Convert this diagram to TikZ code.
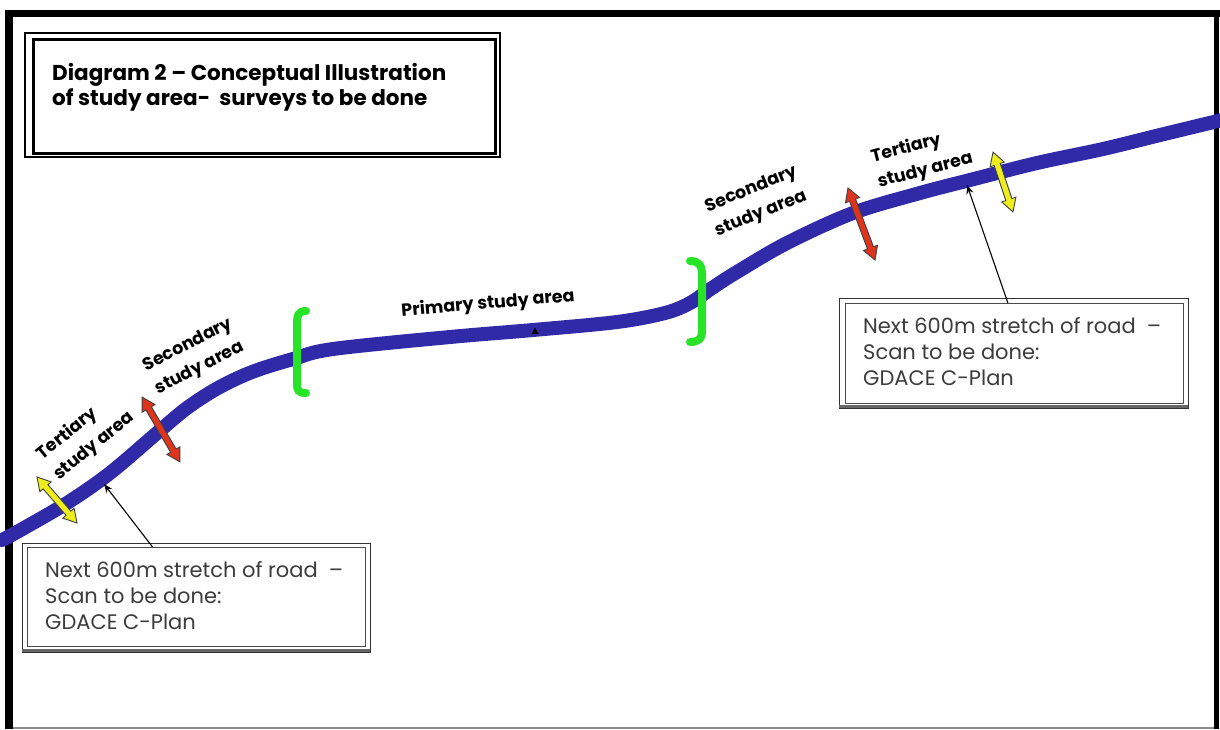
\documentclass[tikz,border=0pt]{standalone}
\usepackage{fontspec}
\setmainfont{Poppins}
\usetikzlibrary{calc,arrows.meta}
\definecolor{roadblue}{RGB}{48,42,168}
\definecolor{brgreen}{RGB}{40,228,40}
\definecolor{arrred}{RGB}{222,52,30}
\definecolor{arryellow}{RGB}{238,238,30}
\definecolor{txtgray}{RGB}{60,60,60}
\newcommand{\dblarr}[5]{%
  \begin{scope}[shift={(#1,#2)}, rotate=#3]
    \pgfmathsetmacro\hl{#4/2}
    \filldraw[draw=black!75, fill=#5, line width=0.9pt, line join=miter]
      (-\hl,0) -- (-\hl+13,7.5) -- (-\hl+13,3.2) -- (\hl-13,3.2) -- (\hl-13,7.5) -- (\hl,0)
      -- (\hl-13,-7.5) -- (\hl-13,-3.2) -- (-\hl+13,-3.2) -- (-\hl+13,-7.5) -- cycle;
  \end{scope}}
\begin{document}
\begin{tikzpicture}[x=1pt,y=-1pt,
  frame/.style={line width=#1, black},
  roadline/.style={line width=14pt, roadblue, line cap=round, line join=round},
  bracket/.style={line width=8pt, brgreen, line cap=round},
  callbox/.style={draw=black!70, line width=1.4pt, fill=white, inner sep=0pt},
  calltext/.style={font=\fontsize{21}{26}\selectfont, text=txtgray, align=left, inner sep=0pt},
  titletext/.style={font=\fontsize{21.5}{25.5}\selectfont\bfseries, align=left, inner sep=0pt},
  lbl/.style={font=\fontsize{17.5}{26}\selectfont\bfseries, align=left, inner sep=0pt},
  callarrow/.style={-{Stealth[length=9pt,width=7pt]}, line width=1.1pt, black},
]
\useasboundingbox (0,0) rectangle (1220,729);
\fill[white] (0,0) rectangle (1220,729);

% outer frame
\draw[black!45, line width=1.5pt] (8,728) -- (1216,728);
\draw[frame=5pt] (1216,11) -- (1216,729);
\draw[frame=8pt] (8.5,9.5) -- (8.5,729);
\draw[frame=7.5pt] (4.5,13.5) -- (1220,13.5);

% title box
\draw[line width=1.2pt] (25,33) rectangle (500,157);
\node[draw, line width=2.6pt, minimum width=462pt, minimum height=114pt, anchor=north west, inner sep=0pt] (titlebox) at (32,38) {};
\node[titletext, anchor=north west] (title) at (52,63) {Diagram 2 – Conceptual Illustration\\of study area-\ \ surveys to be done};

% road
\draw[roadline] plot[smooth, tension=0.55] coordinates {
  (2,540) (17,532) (67,503) (110,473) (157,433) (187,408) (218,388) (252,372) (293,359)
  (333,349) (450,337) (533,330) (617,322) (665,313) (690,303) (712,288) (737,272) (787,243)
  (853,213) (920,193) (970,180) (1037,163) (1103,149) (1160,135) (1222,120)};
\coordinate (roadL) at (104,484);
\coordinate (roadR) at (967,185);
\coordinate (roadM) at (535,331);
\fill[black] ($(roadM)+(-3.5,3)$) -- ($(roadM)+(0,-3.5)$) -- ($(roadM)+(3.5,3)$) -- cycle;

% green brackets
\draw[bracket] (306,311) .. controls (298,311) and (297,316) .. (297,323) -- (297,384)
  .. controls (297,390) and (298,393) .. (306,393);
\draw[bracket] (690,261) .. controls (699,261) and (702,266) .. (702,273) -- (702,332)
  .. controls (702,338) and (699,342) .. (690,342);

% double arrows
\dblarr{57}{500}{-49}{61}{arryellow}
\dblarr{161}{429.5}{-59.7}{75}{arrred}
\dblarr{861.5}{224}{-69.4}{77}{arrred}
\dblarr{1003}{182}{-71.6}{63}{arryellow}

% labels
\node[lbl, rotate=39] (tertL) at (86,436) {Tertiary\\study area};
\node[lbl, rotate=27] (secL) at (194,357) {Secondary\\study area};
\node[lbl, rotate=5] (prim) at (488,304) {Primary study area};
\node[lbl, rotate=22] (secR) at (756,202) {Secondary\\study area};
\node[lbl, rotate=14.4] (tertR) at (922,158) {Tertiary\\study area};

% callout boxes
\draw[black!80, line width=1pt] (22,543) rectangle (370,652);
\draw[black!60, line width=3pt] (22,650) -- (370,650);
\node[callbox, minimum width=338pt, minimum height=99pt, anchor=north west] (boxL) at (27,547) {};
\node[calltext, anchor=north west] (textL) at (45,561) {Next 600m stretch of road\ \ –\\Scan to be done:\\GDACE C-Plan};
\draw[callarrow] ($(boxL.north west)!0.37!(boxL.north east)$) -- (roadL);

\draw[black!80, line width=1pt] (839,298) rectangle (1188,408);
\draw[black!60, line width=3pt] (839,406) -- (1188,406);
\node[callbox, minimum width=338pt, minimum height=100pt, anchor=north west] (boxR) at (845,303) {};
\node[calltext, anchor=north west] (textR) at (863,317) {Next 600m stretch of road\ \ –\\Scan to be done:\\GDACE C-Plan};
\draw[callarrow] ($(boxR.north west)!0.48!(boxR.north east)$) -- (roadR);
\end{tikzpicture}
\end{document}
